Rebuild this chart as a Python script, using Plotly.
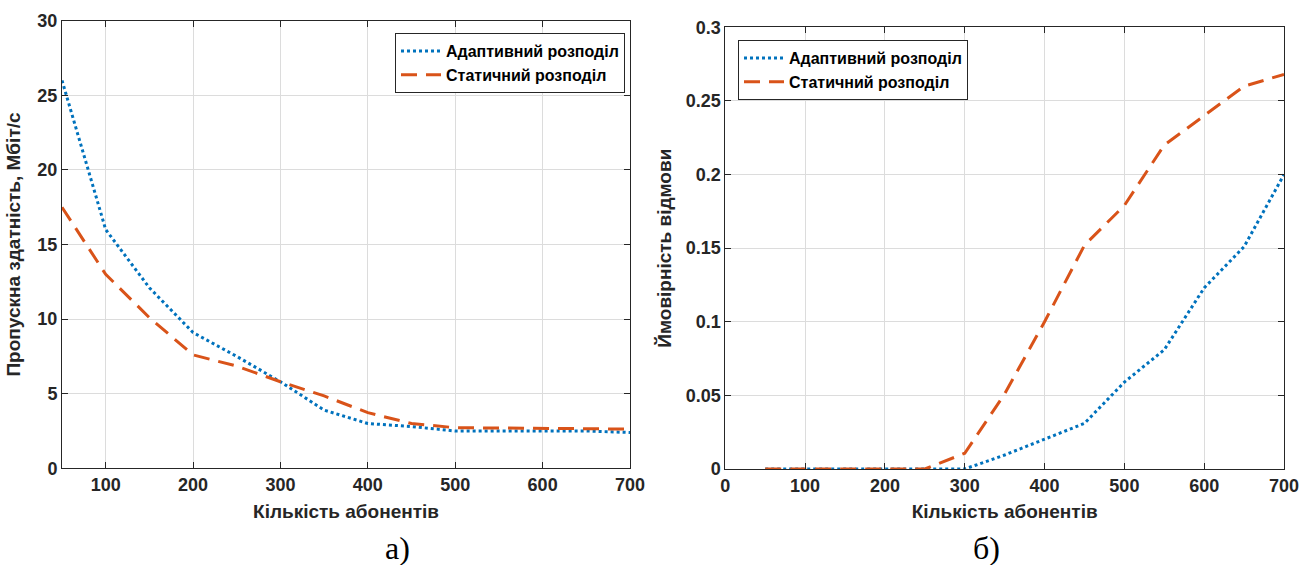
import plotly.graph_objects as go

# ---- data ----
users = [50, 100, 150, 200, 250, 300, 350, 400, 450, 500, 550, 600, 650, 700]
thr_adaptive = [26, 16, 12.1, 9.1, 7.5, 5.8, 3.9, 3.0, 2.8, 2.5, 2.5, 2.5, 2.5, 2.4]
thr_static = [17.5, 13, 10.1, 7.6, 6.85, 5.8, 4.85, 3.73, 3.0, 2.72, 2.7, 2.68, 2.66, 2.63]
rej_adaptive = [0, 0, 0, 0, 0, 0, 0.0095, 0.0204, 0.031, 0.059, 0.081, 0.123, 0.151, 0.2]
rej_static = [0, 0, 0, 0, 0, 0.0107, 0.051, 0.1, 0.152, 0.179, 0.22, 0.24, 0.26, 0.268]

name_adaptive = "Адаптивний розподіл"
name_static = "Статичний розподіл"
x_title = "Кількість абонентів"
y_title_left = "Пропускна здатність, Мбіт/с"
y_title_right = "Ймовірність відмови"
x_ticks_left = [100, 200, 300, 400, 500, 600, 700]
x_ticks_right = [0, 100, 200, 300, 400, 500, 600, 700]
y_ticks_left = [0, 5, 10, 15, 20, 25, 30]
y_ticks_right = [0, 0.05, 0.1, 0.15, 0.2, 0.25, 0.3]
y_tick_text_right = ["0", "0.05", "0.1", "0.15", "0.2", "0.25", "0.3"]

BLUE = "#0072BD"
ORANGE = "#D95319"
FONT = "Liberation Sans"
TXT = "#262626"

fig = go.Figure()
dot = dict(color=BLUE, width=3, dash="3px,3px")
dash = dict(color=ORANGE, width=3, dash="16px,9px")

fig.add_trace(go.Scatter(x=users, y=thr_adaptive, mode="lines", line=dot, name=name_adaptive,
                         xaxis="x", yaxis="y", legend="legend"))
fig.add_trace(go.Scatter(x=users, y=thr_static, mode="lines", line=dash, name=name_static,
                         xaxis="x", yaxis="y", legend="legend"))
fig.add_trace(go.Scatter(x=users, y=rej_adaptive, mode="lines", line=dot, name=name_adaptive,
                         xaxis="x2", yaxis="y2", legend="legend2"))
fig.add_trace(go.Scatter(x=users, y=rej_static, mode="lines", line=dash, name=name_static,
                         xaxis="x2", yaxis="y2", legend="legend2"))

# body margin is removed by post_script, so figure pixels == screenshot pixels
FW, FH = 1299, 565


def px(x):
    return x / FW


def py(y):
    return (FH - y) / FH


tickfont = dict(family=FONT, size=18, color=TXT, weight="bold")
titlefont = dict(family=FONT, size=19, color=TXT, weight="bold")
legfont = dict(family=FONT, size=16, color="black", weight="bold")
common = dict(showline=True, linecolor="#262626", linewidth=1, mirror="ticks",
              ticks="inside", ticklen=6, tickcolor="#262626", automargin=False,
              ticklabeloverflow="allow",
              showgrid=True, gridcolor="#DCDCDC", gridwidth=1, zeroline=False,
              tickfont=tickfont)

fig.update_layout(
    width=FW, height=FH,
    margin=dict(l=0, r=0, t=0, b=0, autoexpand=False),
    paper_bgcolor="white", plot_bgcolor="white",
    xaxis=dict(domain=[px(62), px(630)], range=[50, 700], tickvals=x_ticks_left,
               anchor="y", title=dict(text=x_title, font=titlefont, standoff=10), **common),
    yaxis=dict(domain=[py(468.3), py(20.7)], range=[0, 30], tickvals=y_ticks_left,
               anchor="x", title=dict(text=y_title_left, font=titlefont, standoff=11), **common),
    xaxis2=dict(domain=[px(725.3), px(1284.0)], range=[0, 700], tickvals=x_ticks_right,
                anchor="y2", title=dict(text=x_title, font=titlefont, standoff=10), **common),
    yaxis2=dict(domain=[py(469), py(27.3)], range=[0, 0.3], tickvals=y_ticks_right,
                ticktext=y_tick_text_right,
                anchor="x2", title=dict(text=y_title_right, font=titlefont, standoff=8), **common),
    legend=dict(x=px(625), y=py(33), xanchor="right", yanchor="top",
                bgcolor="white", bordercolor="#262626", borderwidth=1,
                font=legfont, tracegroupgap=0, itemwidth=40),
    legend2=dict(x=px(738), y=py(40), xanchor="left", yanchor="top",
                 bgcolor="white", bordercolor="#262626", borderwidth=1,
                 font=legfont, tracegroupgap=0, itemwidth=40),
    annotations=[
        dict(text="а)", x=px(397), y=py(548), xref="paper", yref="paper",
             xanchor="center", yanchor="middle",
             showarrow=False, font=dict(family="Liberation Serif", size=32, color="black")),
        dict(text="б)", x=px(986), y=py(548), xref="paper", yref="paper",
             xanchor="center", yanchor="middle",
             showarrow=False, font=dict(family="Liberation Serif", size=32, color="black")),
    ],
)

fig.write_html(
    "out.html",
    config={"displayModeBar": False},
    post_script="document.body.style.margin='0';document.body.style.overflow='hidden';",
)
